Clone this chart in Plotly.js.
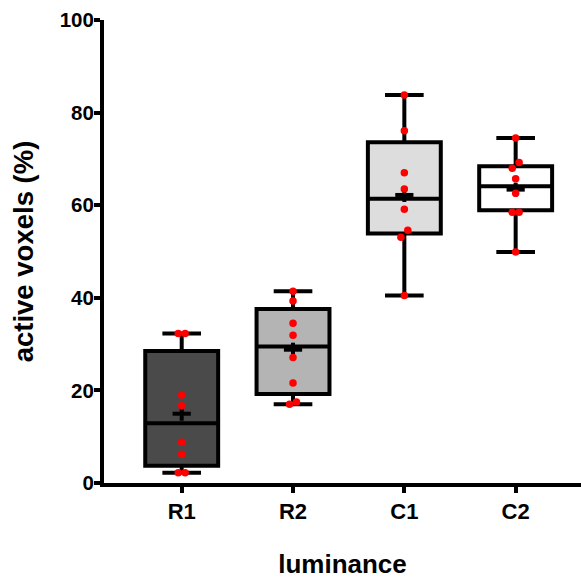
<!DOCTYPE html>
<html><head><meta charset="utf-8">
<script src="https://cdn.plot.ly/plotly-3.0.1.min.js"></script>
<style>html,body{margin:0;padding:0;background:#fff}#chart{width:581px;height:579px}</style>
</head><body><div id="chart"></div>
<script>
// ---- data ----
const categories = ['R1', 'R2', 'C1', 'C2'];
const r1 = [32.3, 32.3, 19.0, 16.7, 8.8, 6.2, 2.2, 2.2];
const r2 = [41.4, 39.3, 34.5, 31.9, 27.1, 21.6, 17.5, 17.0];
const c1 = [83.8, 76.1, 67.0, 63.5, 59.1, 54.6, 53.1, 40.5];
const c2 = [74.5, 69.2, 68.0, 65.7, 62.6, 58.5, 58.5, 49.9];
const q1Vals = [3.7, 19.2, 53.9, 58.9];
const medianVals = [12.9, 29.5, 61.4, 64.1];
const q3Vals = [28.5, 37.6, 73.6, 68.4];

// ---- styling ----
const groups = [r1, r2, c1, c2];
const fills = ['#4a4a4a', '#b4b4b4', '#dddddd', '#ffffff'];
const FONT = 'Liberation Sans, Arial, Helvetica, sans-serif';

function spreadOffsets(vals, tol, step) {
  const idx = vals.map((v, i) => i).sort((a, b) => vals[a] - vals[b]);
  const off = new Array(vals.length).fill(0);
  let g = [idx[0]];
  const flush = () => { const k = g.length; g.forEach((id, j) => { off[id] = (j - (k - 1) / 2) * step; }); };
  for (let i = 1; i < idx.length; i++) {
    if (vals[idx[i]] - vals[idx[i - 1]] < tol) g.push(idx[i]); else { flush(); g = [idx[i]]; }
  }
  flush();
  return off;
}
const mean = a => a.reduce((s, v) => s + v, 0) / a.length;

const traces = [];
groups.forEach((g, i) => {
  traces.push({
    type: 'box', x: [i], q1: [q1Vals[i]], median: [medianVals[i]], q3: [q3Vals[i]],
    lowerfence: [Math.min(...g)], upperfence: [Math.max(...g)],
    width: 0.655, whiskerwidth: 0.53, fillcolor: fills[i],
    line: {color: '#000', width: 4}, boxpoints: false, hoverinfo: 'skip', showlegend: false
  });
});
const means = groups.map(mean);
const idxs = categories.map((c, i) => i);
traces.push({type: 'scatter', mode: 'markers', x: idxs, y: means, showlegend: false, hoverinfo: 'skip',
  marker: {symbol: 'line-ew', size: 13, line: {color: '#000', width: 4}}});
traces.push({type: 'scatter', mode: 'markers', x: idxs, y: means, showlegend: false, hoverinfo: 'skip',
  marker: {symbol: 'line-ns', size: 10, line: {color: '#000', width: 4}}});
groups.forEach((g, i) => {
  const off = spreadOffsets(g, 1.6, 0.062);
  traces.push({type: 'scatter', mode: 'markers', x: g.map((v, j) => i + off[j]), y: g,
    showlegend: false, hoverinfo: 'skip', marker: {color: '#ff0000', size: 7.5}});
});

const axisCommon = {
  showline: true, linewidth: 4, linecolor: '#000', ticks: 'outside', ticklen: 6, tickwidth: 4,
  tickcolor: '#000', showgrid: false, zeroline: false, fixedrange: true
};
const layout = {
  width: 581, height: 579, paper_bgcolor: '#fff', plot_bgcolor: '#fff',
  margin: {l: 104, r: 0, t: 20, b: 96}, showlegend: false,
  font: {family: FONT, color: '#000'},
  xaxis: Object.assign({}, axisCommon, {
    range: [-0.698, 3.587], tickvals: idxs, ticktext: categories,
    tickfont: {family: FONT, size: 22, color: '#000', weight: 700},
    title: {text: 'luminance', font: {family: FONT, size: 26, color: '#000', weight: 700}, standoff: 32}
  }),
  yaxis: Object.assign({}, axisCommon, {
    range: [0, 100], tickvals: [0, 20, 40, 60, 80, 100],
    tickfont: {family: FONT, size: 20.5, color: '#000', weight: 700},
    ticklabelstandoff: -4,
    title: {text: 'active voxels (%)', font: {family: FONT, size: 27.5, color: '#000', weight: 700}, standoff: 19}
  })
};
Plotly.newPlot('chart', traces, layout, {staticPlot: true, displayModeBar: false});
</script>
</body></html>
